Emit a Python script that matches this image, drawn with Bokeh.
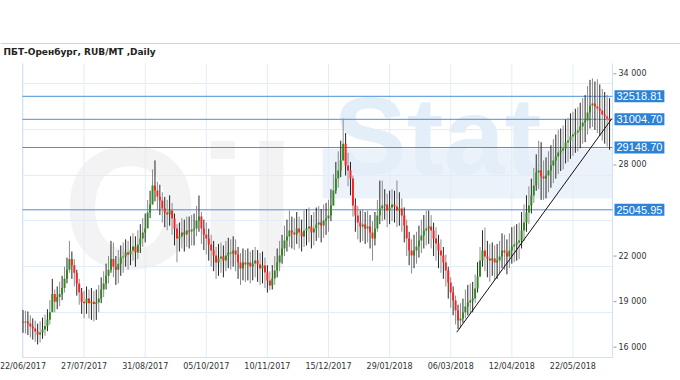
from bokeh.plotting import figure
from bokeh.models import Label, ColumnDataSource, Range1d
from bokeh.core.properties import value
from bokeh.embed import file_html
from bokeh.resources import INLINE

# ---------------- data (RUB/MT, daily bars) ----------------
first_open = 17700
closes = [
    17630, 17690, 17560, 17360, 17230, 17030, 16840, 16970, 17170, 17400,
    17800, 18300, 19500, 19000, 19300, 19500, 19900, 20500, 21100, 21800,
    21400, 20900, 20200, 19600, 19000, 18900, 19200, 18900, 19000, 18850,
    18950, 19200, 19800, 20200, 20700, 21100, 21800, 21300, 21100, 21500,
    21900, 21970, 22240, 22100, 22370, 22630, 22240, 22760, 23160, 23550,
    23820, 24870, 25400, 26650, 26320, 25920, 25660, 25130, 24870, 24740,
    25000, 24470, 23820, 23160, 23290, 23550, 23420, 23680, 23620, 23750,
    23820, 24340, 24610, 23820, 23420, 23160, 22760, 22370, 22040, 21580,
    21840, 21970, 21710, 22040, 22240, 22170, 22370, 22100, 21580, 21180,
    21580, 21450, 21580, 21310, 21510, 21710, 21450, 21180, 21380, 20920,
    20390, 20060, 20520, 21050, 21580, 22040, 22500, 23030, 23290, 23680,
    23550, 23420, 23820, 23550, 23290, 23680, 23820, 23950, 23550, 23820,
    24080, 24210, 24010, 24340, 24470, 24670, 25330, 26320, 27110, 27630,
    28290, 29400, 27960, 27630, 27110, 25330, 24670, 24210, 23950, 24080,
    23820, 23950, 23550, 23160, 23820, 24670, 25130, 25330, 25400, 25000,
    25200, 25400, 25260, 25000, 25130, 24670, 24010, 23160, 22370, 22040,
    22370, 22630, 23030, 23360, 23680, 23820, 23950, 23680, 23160, 22830,
    22370, 22040, 21580, 21050, 20260, 19600, 19080, 18420, 17760, 17890,
    18290, 18680, 18940, 19080, 19210, 19870, 20660, 21710, 22370, 21970,
    21840, 21710, 21840, 21580, 21710, 21970, 22370, 22240, 21970, 22370,
    22630, 22760, 22890, 23030, 23680, 24210, 24870, 25330, 25990, 26650,
    27500, 27630, 27240, 27110, 27310, 27630, 27960, 28290, 28560, 28820,
    28950, 29080, 29480, 29610, 29870, 30000, 30140, 30270, 30530, 30790,
    30930, 31450, 31910, 32050, 31850, 31720, 31590, 31320, 31190, 31060,
    30930,
]
highs = [
    18450, 18400, 18350, 18100, 17900, 17750, 17550, 17700, 17950, 18150,
    18500, 19100, 20500, 19800, 20000, 20300, 20700, 21300, 21900, 23000,
    22300, 21800, 21100, 20500, 19900, 19700, 20000, 19800, 19900, 19700,
    19800, 20100, 20600, 21000, 21500, 22000, 23000, 22900, 22000, 22400,
    22700, 22900, 23100, 23000, 23300, 23500, 23300, 23700, 24100, 24500,
    24800, 25700, 26300, 27700, 28300, 26900, 26700, 26200, 25900, 25700,
    26000, 25500, 24800, 24100, 24200, 24500, 24400, 24600, 24600, 24700,
    24800, 25300, 25990, 24900, 24400, 24200, 23800, 23400, 23000, 22600,
    22800, 22900, 22700, 23000, 23200, 23100, 23300, 23100, 22600, 22200,
    22500, 22400, 22500, 22300, 22400, 22600, 22400, 22200, 22300, 21900,
    21400, 21000, 21400, 22000, 22500, 23000, 23400, 24000, 24400, 25000,
    24600, 24500, 24900, 24600, 24400, 25000, 25100, 25200, 24700, 24900,
    25200, 25300, 25100, 25400, 25500, 25700, 26400, 27400, 28200, 28900,
    29600, 31050, 30100, 28800, 28200, 27300, 25800, 25300, 25000, 25100,
    24900, 25000, 24700, 24300, 24900, 25700, 26970, 26970, 26400, 26100,
    26300, 26400, 26300, 26970, 26200, 25800, 25200, 24400, 23600, 23100,
    23400, 23600, 24000, 24400, 24700, 25000, 25000, 24700, 24200, 23900,
    23400, 23100, 22600, 22100, 21300, 20600, 20000, 19400, 18800, 18900,
    19200, 19800, 20100, 20200, 20300, 20800, 21600, 22600, 23700, 23880,
    23000, 22800, 22900, 22700, 22800, 23000, 23500, 23400, 23100, 23500,
    23900, 24000, 24100, 24200, 24900, 25400, 26000, 26600, 27100, 27800,
    28700, 29600, 29500, 28300, 28500, 28900, 29300, 29700, 30000, 30300,
    30400, 30600, 31000, 31100, 31400, 31500, 31700, 31800, 32100, 32400,
    32600, 33200, 33600, 33700, 33500, 33650, 33300, 33000, 32800, 32600,
    32400,
]
lows = [
    16950, 16900, 16800, 16650, 16500, 16350, 16180, 16300, 16550, 16750,
    17050, 17500, 18600, 18300, 18500, 18700, 19100, 19600, 20200, 20900,
    20500, 20000, 19400, 18800, 18200, 17900, 18200, 17900, 17800, 17700,
    17800, 18300, 18900, 19300, 19800, 20200, 20900, 20600, 20100, 20200,
    20700, 20900, 21300, 21100, 21400, 21700, 21300, 21800, 22200, 22600,
    22900, 23900, 24500, 25400, 25600, 25000, 24700, 24200, 23900, 23700,
    24000, 23400, 22700, 21600, 22300, 22500, 22300, 22600, 22500, 22700,
    22700, 23300, 23600, 22800, 22400, 22100, 21700, 21300, 21000, 20500,
    20700, 20900, 20600, 21000, 21200, 21100, 21300, 21000, 20500, 20100,
    20400, 20300, 20400, 20200, 20400, 20600, 20300, 20100, 20200, 19900,
    19600, 19750, 19800, 20100, 20600, 21000, 21500, 22000, 22300, 22600,
    22500, 22400, 22800, 22500, 22300, 22600, 22700, 22900, 22500, 22700,
    23000, 23200, 22900, 23200, 23400, 23600, 24300, 25300, 26100, 26500,
    27200, 28300, 27300, 26600, 26000, 24600, 23600, 23100, 22900, 23000,
    22800, 22900, 22500, 21700, 22700, 23600, 24100, 24300, 24400, 23900,
    24100, 24300, 24200, 23900, 24000, 23600, 22900, 22000, 21400, 20850,
    21200, 21500, 21900, 22200, 22500, 22700, 22800, 22500, 22000, 21700,
    21200, 20900, 20500, 20000, 19200, 18600, 18100, 17500, 17200, 17250,
    17600, 17900, 18100, 18200, 18300, 18900, 19600, 20600, 21300, 21000,
    20600, 20300, 20700, 20400, 20500, 20800, 21200, 21100, 20800, 21200,
    21500, 21600, 21700, 21800, 22500, 23000, 23600, 24100, 24800, 25500,
    26300, 26400, 25700, 25700, 25800, 26200, 26500, 26800, 27100, 27400,
    27600, 27700, 28100, 28200, 28400, 28600, 28800, 28900, 29100, 29400,
    29500, 30000, 30400, 30500, 30300, 30100, 29900, 29600, 29400, 29200,
    29000,
]
opens = [first_open] + closes[:-1]

date_tick_index = [0, 25, 50, 75, 100, 125, 150, 175, 200, 225]
date_tick_labels = ["22/06/2017", "27/07/2017", "31/08/2017", "05/10/2017",
                    "10/11/2017", "15/12/2017", "29/01/2018", "06/03/2018",
                    "12/04/2018", "22/05/2018"]
price_ticks = [16000, 19000, 22000, 28000, 34000]
price_tick_labels = ["16 000", "19 000", "22 000", "28 000", "34 000"]
levels = [32518.81, 31004.70, 29148.70, 25045.95]
trend_x = [177.5, 240.9]
trend_y = [16990, 31040]
title_text = "ПБТ-Оренбург,  RUB/MT ,Daily"

# ---------------- layout / style ----------------
W, H = 680, 380
PX_L, PX_R, PX_T, PX_B = 22, 612, 63, 357        # plot area in pixels
X0, X1 = -0.2, 241.2                              # bar index at plot left/right
Y0, Y1 = 15322, 34679                             # price at plot bottom/top
SX = (X1 - X0) / (PX_R - PX_L)
SY = (Y1 - Y0) / (PX_B - PX_T)


def X(px):
    return X0 + (px - PX_L) * SX


def Y(py):
    return Y1 - (py - PX_T) * SY


UP = "#2f8a1a"
DOWN = "#ff2020"
WICKS = ["#262626", "#8c8c8c"]
GRID = "#e3edf7"
FRAME = "#d3e2f1"
LEVEL = "#4a90d9"
LEVEL_BOX = "#2b82d6"
grid_levels = [Y(py) for py in (83, 129, 175, 220, 266, 312)]

n = len(closes)
idx = list(range(n))
src = ColumnDataSource(dict(
    x=idx,
    high=highs, low=lows,
    top=[max(o, c) for o, c in zip(opens, closes)],
    bottom=[min(o, c) for o, c in zip(opens, closes)],
    body_color=[UP if c >= o else DOWN for o, c in zip(opens, closes)],
    wick_color=[WICKS[i % 2] for i in idx],
))

p = figure(width=W, height=H, toolbar_location=None, output_backend="svg",
           x_range=Range1d(X(0), X(W)), y_range=Range1d(Y(H), Y(0)),
           min_border=0)
p.axis.visible = False
p.grid.visible = False
p.outline_line_color = None
p.background_fill_color = "white"
p.border_fill_color = "white"

# faint "OilStat" watermark behind the chart
p.quad(left=[X(322)], right=[X1], top=[Y(148)], bottom=[Y(198)],
       fill_color="#ebf2fa", line_color=None)
p.text(x=[X(62)], y=[Y(207)], text=["Oil"], text_baseline="alphabetic",
       text_font=value("Liberation Sans"), text_font_style="bold",
       text_font_size="175px", text_color="#f3f3f3")
p.text(x=[X(333)], y=[Y(135)], text=["Stat"], text_baseline="alphabetic",
       text_font=value("Liberation Sans"), text_font_style="bold",
       text_font_size="110px", text_color="#e4eef8")

# header separator and title
p.segment(x0=[X(0)], x1=[X(W)], y0=[Y(43)], y1=[Y(43)], line_color="#d2d2d2", line_width=1)
p.add_layout(Label(x=X(3), y=Y(51), text=title_text, text_baseline="middle",
                   text_font="DejaVu Sans", text_font_size="9px",
                   text_font_style="bold", text_color="#222222"))

# grid
p.segment(x0=date_tick_index, x1=date_tick_index, y0=[Y0] * len(date_tick_index),
          y1=[Y1] * len(date_tick_index), line_color=GRID, line_width=1)
p.segment(x0=[X0] * len(grid_levels), x1=[X1] * len(grid_levels), y0=grid_levels,
          y1=grid_levels, line_color=GRID, line_width=1)
# frame: left, bottom, right
p.segment(x0=[X0, X0, X1], x1=[X0, X1, X1], y0=[Y0, Y0, Y0], y1=[Y1, Y0, Y1],
          line_color=FRAME, line_width=1)

# price axis (right)
p.segment(x0=[X(613)] * len(price_ticks), x1=[X(616)] * len(price_ticks),
          y0=price_ticks, y1=price_ticks, line_color="#9a9a9a", line_width=1)
p.text(x=[X(618)] * len(price_ticks), y=price_ticks, text=price_tick_labels,
       text_baseline="middle", text_align="left", text_font=value("DejaVu Sans"),
       text_font_size="8px", text_color="#333333")
# date axis (bottom)
p.text(x=date_tick_index, y=[Y(366)] * len(date_tick_index), text=date_tick_labels,
       text_baseline="middle", text_align="center", text_font=value("DejaVu Sans"),
       text_font_size="8px", text_color="#333333")

# support / resistance levels
p.segment(x0=[X0] * len(levels), x1=[X1] * len(levels), y0=levels, y1=levels,
          line_color=LEVEL, line_width=1)

# candles
p.segment(x0="x", x1="x", y0="low", y1="high", line_color="wick_color", line_width=1, source=src)
p.vbar(x="x", width=0.8, top="top", bottom="bottom", fill_color="body_color",
       line_color=None, source=src)
# trend line
p.line(trend_x, trend_y, line_color="#111111", line_width=1)

# level value boxes
for lv in levels:
    p.add_layout(Label(x=X(614), y=lv, text=f"{lv:.2f}",
                       text_baseline="middle", text_align="left",
                       text_font="Liberation Sans", text_font_size="11px",
                       text_color="white", background_fill_color=LEVEL_BOX,
                       padding=2))

open("out.html", "w").write(file_html(p, INLINE))
